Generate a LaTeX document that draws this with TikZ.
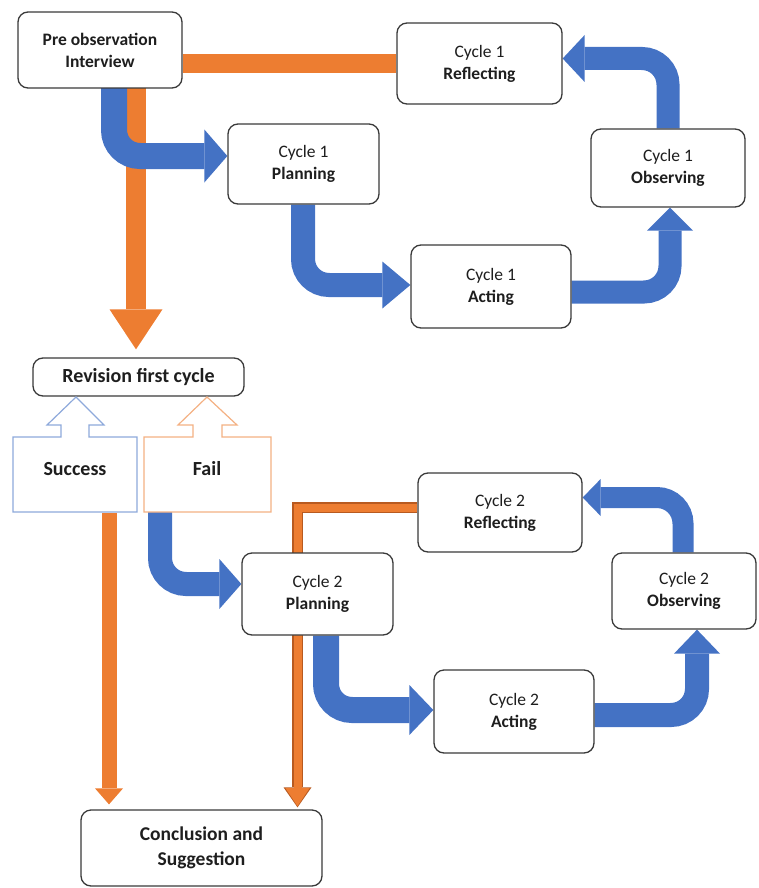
\documentclass[tikz,border=0pt]{standalone}
\usepackage{fontspec}
\setmainfont{Carlito}
\usetikzlibrary{arrows.meta,calc,backgrounds}
\definecolor{barblue}{HTML}{4472C4}
\definecolor{barorange}{HTML}{ED7D31}
\definecolor{darkorange}{HTML}{B85A20}
\definecolor{succline}{HTML}{8EA9DB}
\definecolor{failline}{HTML}{F4B183}
\definecolor{boxline}{HTML}{3A3A3A}
\definecolor{txt}{HTML}{1E1E1E}
\begin{document}
\begin{tikzpicture}[x=1pt,y=-1pt,
  box/.style={draw=boxline, line width=1.3pt, rounded corners=10pt, fill=white,
    align=center, text=txt, inner sep=0pt, font=\fontsize{17.5}{22}\selectfont},
  bigbox/.style={box, font=\fontsize{20}{25}\selectfont\bfseries},
  blarrow/.style n args={3}{draw=barblue, line width=#1, rounded corners=26pt,
    -{Triangle[length=#2,width=#3,line width=0pt]}},
  orarrow/.style n args={3}{draw=barorange, line width=#1,
    -{Triangle[length=#2,width=#3,line width=0pt]}},
  darrow/.style n args={3}{draw=darkorange, line width=#1,
    -{Triangle[length=#2,width=#3,line width=0pt]}},
  orbar/.style={draw=barorange, line width=#1},
  lbl/.style={text=txt, font=\fontsize{20}{24}\selectfont\bfseries},
  callout/.style={line width=1.2pt, fill=white, line join=miter}
]
\useasboundingbox (0,0) rectangle (758,888);

% boxes
\node[box, minimum width=164pt, minimum height=76pt] (pre) at (100,50) {\textbf{Pre observation}\\\textbf{Interview}};
\node[box, minimum width=165pt, minimum height=81pt] (ref1) at (479.5,63.5) {Cycle 1\\\textbf{Reflecting}};
\node[box, minimum width=151pt, minimum height=80pt] (plan1) at (303.5,164) {Cycle 1\\\textbf{Planning}};
\node[box, minimum width=154pt, minimum height=78pt] (obs1) at (668,168) {Cycle 1\\\textbf{Observing}};
\node[box, minimum width=160pt, minimum height=83pt] (act1) at (491,286.5) {Cycle 1\\\textbf{Acting}};
\node[bigbox, minimum width=211pt, minimum height=38pt] (rev) at (138.5,377) {Revision first cycle};
\node[box, minimum width=151pt, minimum height=82pt] (plan2) at (317.5,594) {Cycle 2\\\textbf{Planning}};
\node[box, minimum width=164pt, minimum height=79pt] (ref2) at (500,512.5) {Cycle 2\\\textbf{Reflecting}};
\node[box, minimum width=144pt, minimum height=76pt] (obs2) at (684,591) {Cycle 2\\\textbf{Observing}};
\node[box, minimum width=160pt, minimum height=83pt] (act2) at (514,711.5) {Cycle 2\\\textbf{Acting}};
\node[bigbox, minimum width=241pt, minimum height=76pt, font=\fontsize{19.5}{25}\selectfont\bfseries] (concl) at (201.5,848) {Conclusion and\\Suggestion};

% success / fail up-arrow callouts
\draw[callout, draw=succline] (13,512) -- (137,512) -- (137,437) -- (89,437) -- (89,425) -- (104,425)
  -- (76,397) -- (47,425) -- (61,425) -- (61,437) -- (13,437) -- cycle;
\draw[callout, draw=failline] (144,512) -- (271,512) -- (271,437) -- (222,437) -- (222,425) -- (237,425)
  -- (207,397) -- (178,425) -- (193,425) -- (193,437) -- (144,437) -- cycle;
\node[lbl] (succ) at (75,469) {Success};
\node[lbl] (fail) at (207,469) {Fail};
\coordinate (succbot) at (109,513);
\coordinate (failbot) at (160,512);

\begin{scope}[on background layer]
  % orange connectors
  \draw[orbar=19pt] (pre.east |- 0,64) -- (ref1.west |- 0,64);
  \draw[orarrow={20pt}{40pt}{53pt}] (136,88) -- ($(rev.north -| 136,0)+(0,-8)$);
  \draw[orarrow={15pt}{16pt}{28pt}] (succbot) -- ($(concl.north -| succbot)+(0,-5)$);
  \draw[darrow={10.5pt}{20pt}{28pt}, line join=miter] (ref2.west |- 0,507.5) -| ($(concl.north -| 297.5,0)+(0,-2)$);
  \draw[orarrow={8pt}{18pt}{24pt}, line join=miter] (ref2.west |- 0,507.5) -| ($(concl.north -| 297.5,0)+(0,-3.2)$);
  % blue connectors cycle 1
  \draw[blarrow={26pt}{23pt}{53pt}] (114,88) |- (plan1.west |- 0,156);
  \draw[blarrow={24pt}{28pt}{47pt}] (plan1.south -| 303,0) |- (act1.west |- 0,285);
  \draw[blarrow={23pt}{23pt}{46pt}] (act1.east |- 0,292) -| (obs1.south -| 670,0);
  \draw[blarrow={23pt}{22pt}{47pt}] (obs1.north -| 668,0) |- (ref1.east |- 0,58.5);
  % blue connectors cycle 2
  \draw[blarrow={24pt}{22pt}{50pt}] (failbot) |- (plan2.west |- 0,584);
  \draw[blarrow={26pt}{24pt}{50pt}] (plan2.south -| 326,0) |- (act2.west |- 0,710);
  \draw[blarrow={24pt}{24pt}{46pt}] (act2.east |- 0,715) -| (obs2.south -| 697,0);
  \draw[blarrow={21pt}{18pt}{37pt}] (obs2.north -| 683,0) |- (ref2.east |- 0,497.5);
\end{scope}
\end{tikzpicture}
\end{document}
